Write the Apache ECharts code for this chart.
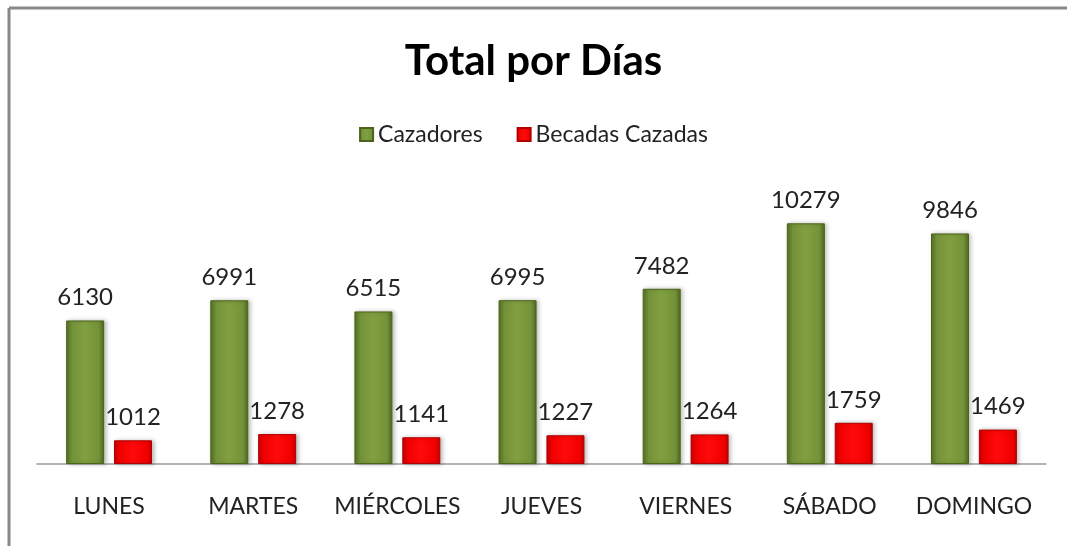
<!DOCTYPE html>
<html lang="es">
<head>
    <meta charset="UTF-8">
    <title>Total por Días</title>
    <style type="text/css">
        html, body {
            margin: 0;
            padding: 0;
            background: #fff;
        }

        #main {
            width: 1067px;
            height: 546px;
        }
    </style>
</head>
<body>
    <div id="main"></div>
    <script src="https://cdn.jsdelivr.net/npm/echarts/dist/echarts.min.js"></script>
    <script type="text/javascript">
        // datos
        var dias = ['LUNES', 'MARTES', 'MIÉRCOLES', 'JUEVES', 'VIERNES', 'SÁBADO', 'DOMINGO'];
        var cazadores = [6130, 6991, 6515, 6995, 7482, 10279, 9846];
        var becadas = [1012, 1278, 1141, 1227, 1264, 1759, 1469];

        var fuente = 'Lato, "Open Sans", sans-serif';

        // relleno con aspecto biselado (bordes oscuros, centro claro)
        var verde = new echarts.graphic.LinearGradient(0, 0, 1, 0, [
            { offset: 0, color: '#56731f' },
            { offset: 0.15, color: '#74933a' },
            { offset: 0.5, color: '#80a040' },
            { offset: 0.85, color: '#74933a' },
            { offset: 1, color: '#4f6a1c' }
        ]);
        var rojo = new echarts.graphic.LinearGradient(0, 0, 1, 0, [
            { offset: 0, color: '#c80000' },
            { offset: 0.12, color: '#f00000' },
            { offset: 0.5, color: '#ff0a0a' },
            { offset: 0.88, color: '#f00000' },
            { offset: 1, color: '#c00000' }
        ]);

        var myChart = echarts.init(document.getElementById('main'));
        var option = {
            animation: false,
            backgroundColor: '#fff',
            title: {
                text: 'Total por Días',
                left: 'center',
                top: 35,
                textStyle: {
                    fontFamily: fuente,
                    fontSize: 42,
                    fontWeight: 'bold',
                    color: '#000'
                }
            },
            legend: {
                top: 118,
                left: 'center',
                itemWidth: 13,
                itemHeight: 13,
                itemGap: 34,
                icon: 'rect',
                textStyle: {
                    fontFamily: fuente,
                    fontSize: 23,
                    color: '#222'
                },
                data: ['Cazadores', 'Becadas Cazadas']
            },
            grid: {
                left: 37,
                right: 21,
                top: 183,
                bottom: 82
            },
            xAxis: {
                type: 'category',
                data: dias,
                axisLine: { lineStyle: { color: '#999', width: 1.5 } },
                axisTick: { show: false },
                axisLabel: {
                    interval: 0,
                    margin: 31,
                    fontFamily: fuente,
                    fontSize: 23,
                    color: '#222'
                }
            },
            yAxis: {
                type: 'value',
                min: 0,
                max: 12000,
                show: false,
                splitLine: { show: false }
            },
            graphic: [
                {
                    type: 'line',
                    shape: { x1: 9, y1: 8, x2: 1067, y2: 8 },
                    style: { stroke: '#888', lineWidth: 3 }
                },
                {
                    type: 'line',
                    shape: { x1: 9, y1: 8, x2: 9, y2: 546 },
                    style: { stroke: '#888', lineWidth: 3 }
                }
            ],
            series: [
                {
                    name: 'Cazadores',
                    type: 'bar',
                    data: cazadores,
                    barWidth: 38,
                    barGap: '26%',
                    itemStyle: {
                        color: verde,
                        borderColor: '#4a6419',
                        borderWidth: 1,
                        shadowColor: 'rgba(0,0,0,0.25)',
                        shadowBlur: 4,
                        shadowOffsetX: 2
                    },
                    label: {
                        show: true,
                        position: 'top',
                        distance: 11,
                        fontFamily: fuente,
                        fontSize: 24,
                        color: '#222'
                    }
                },
                {
                    name: 'Becadas Cazadas',
                    type: 'bar',
                    data: becadas,
                    barWidth: 38,
                    itemStyle: {
                        color: rojo,
                        borderColor: '#b00000',
                        borderWidth: 1,
                        shadowColor: 'rgba(0,0,0,0.25)',
                        shadowBlur: 4,
                        shadowOffsetX: 2
                    },
                    label: {
                        show: true,
                        position: 'top',
                        distance: 11,
                        fontFamily: fuente,
                        fontSize: 24,
                        color: '#222'
                    }
                }
            ]
        };
        myChart.setOption(option);
    </script>
</body>
</html>
